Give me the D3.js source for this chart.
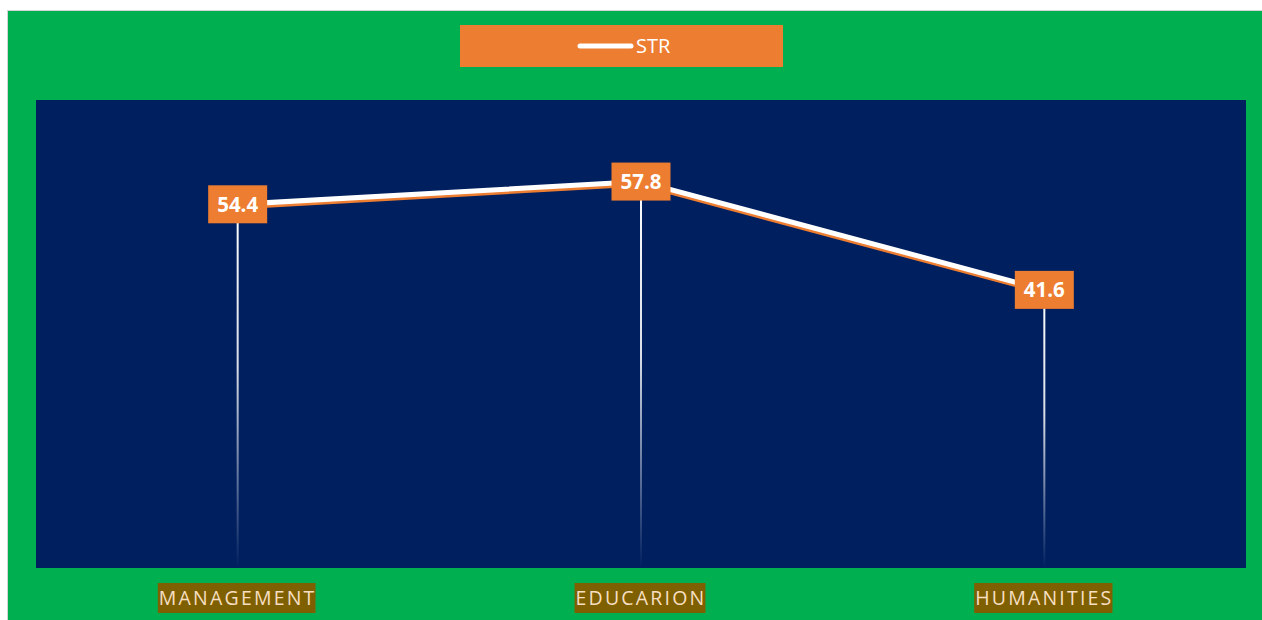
<!DOCTYPE html>
<html><head><meta charset="utf-8">
<script src="https://cdn.jsdelivr.net/npm/d3@7"></script>
<style>html,body{margin:0;padding:0;background:#fff;}svg{display:block;}</style>
</head><body>
<svg id="c" width="1262" height="620"></svg>
<script>
const categories = ["MANAGEMENT", "EDUCARION", "HUMANITIES"];
const values = [54.4, 57.8, 41.6];
const seriesName = "STR";
const yDomain = [0, 70];

const svg = d3.select("#c");
const W = 1262, H = 620;
const plot = {x0: 36, x1: 1246, y0: 100, y1: 568};

svg.append("rect").attr("x", 7.5).attr("y", 10.5).attr("width", W).attr("height", H)
  .attr("fill", "#00B050").attr("stroke", "#d4d4d4").attr("stroke-width", 1);

svg.append("rect").attr("x", plot.x0).attr("y", plot.y0)
  .attr("width", plot.x1 - plot.x0).attr("height", plot.y1 - plot.y0).attr("fill", "#001F5F");

const x = d3.scaleBand().domain(categories).range([plot.x0, plot.x1]);
const y = d3.scaleLinear().domain(yDomain).range([plot.y1, plot.y0]);
const cx = c => x(c) + x.bandwidth() / 2;

const defs = svg.append("defs");
const grad = defs.append("linearGradient").attr("id", "drop").attr("x1", 0).attr("y1", 0).attr("x2", 0).attr("y2", 1);
grad.append("stop").attr("offset", "0%").attr("stop-color", "#fff").attr("stop-opacity", 1);
grad.append("stop").attr("offset", "45%").attr("stop-color", "#fff").attr("stop-opacity", 0.85);
grad.append("stop").attr("offset", "100%").attr("stop-color", "#fff").attr("stop-opacity", 0);

// drop lines
svg.append("g").selectAll("rect").data(categories).join("rect")
  .attr("x", c => cx(c) - 1).attr("width", 2)
  .attr("y", (c, i) => y(values[i])).attr("height", (c, i) => plot.y1 - y(values[i]))
  .attr("fill", "url(#drop)");

const line = d3.line().x((d, i) => cx(categories[i])).y(d => y(d));
// shadow
svg.append("path").datum(values).attr("d", line).attr("transform", "translate(0,3)")
  .attr("fill", "none").attr("stroke", "#ED7D31").attr("stroke-width", 4).attr("stroke-linejoin", "round");
svg.append("path").datum(values).attr("d", line)
  .attr("fill", "none").attr("stroke", "#fff").attr("stroke-width", 5).attr("stroke-linejoin", "round").attr("stroke-linecap", "round");

// data labels
const lg = svg.append("g").selectAll("g").data(values).join("g")
  .attr("transform", (d, i) => `translate(${cx(categories[i])},${y(d)})`);
lg.append("rect").attr("x", -29.5).attr("y", -19).attr("width", 59).attr("height", 38).attr("fill", "#ED7D31");
lg.append("text").attr("text-anchor", "middle").attr("dy", "0.36em")
  .attr("font-family", "Open Sans, sans-serif").attr("font-weight", "bold").attr("font-size", 20.5)
  .attr("fill", "#fff").text(d => d.toFixed(1));

// category axis labels
const ag = svg.append("g").selectAll("g").data(categories).join("g")
  .attr("transform", c => `translate(${cx(c)},598)`);
ag.append("text").attr("text-anchor", "middle").attr("dy", "0.36em")
  .attr("font-family", "Open Sans, sans-serif").attr("font-size", 19.5).attr("letter-spacing", 2.2)
  .attr("fill", "#F6DFC3").text(c => c)
  .each(function() {
    const b = this.getBBox();
    d3.select(this.parentNode).insert("rect", "text")
      .attr("x", b.x - 1).attr("y", -15).attr("width", b.width).attr("height", 30).attr("fill", "#7F6000");
  });

// legend
const leg = svg.append("g");
leg.append("rect").attr("x", 460).attr("y", 25).attr("width", 323).attr("height", 42).attr("fill", "#ED7D31");
leg.append("line").attr("x1", 580).attr("x2", 631).attr("y1", 46).attr("y2", 46)
  .attr("stroke", "#fff").attr("stroke-width", 5).attr("stroke-linecap", "round");
leg.append("text").attr("x", 636).attr("y", 46).attr("dy", "0.36em")
  .attr("font-family", "Open Sans, sans-serif").attr("font-size", 20).attr("fill", "#fff").text(seriesName);
</script>
</body></html>
